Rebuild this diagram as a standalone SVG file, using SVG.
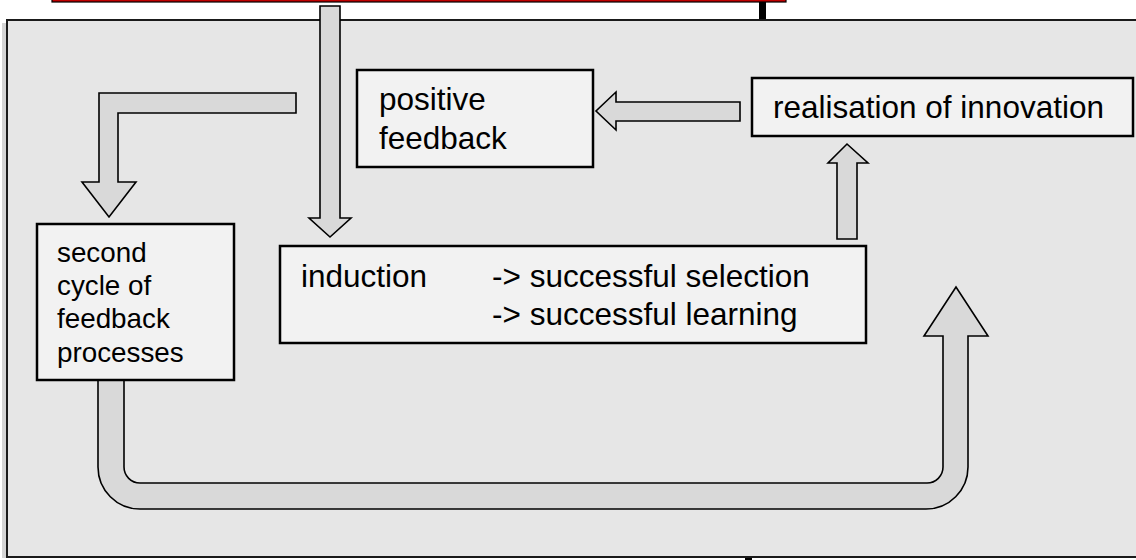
<svg xmlns="http://www.w3.org/2000/svg" width="1136" height="560" viewBox="0 0 1136 560">
<style>
.box{fill:#f2f2f2;stroke:#000;stroke-width:2.5}
.arr{fill:#d9d9d9;stroke:#000;stroke-width:1.6;stroke-linejoin:miter}
.t{font-family:"Liberation Sans",Arial,sans-serif;font-size:31.5px;fill:#000}
.ts{font-family:"Liberation Sans",Arial,sans-serif;font-size:27.8px;fill:#000}
</style>
<rect x="0" y="0" width="1136" height="560" fill="#fff"/>
<g id="top-bar">
<rect x="52" y="-30" width="734" height="32" fill="#c00000" stroke="#000" stroke-width="1.2"/>
<rect x="759" y="2" width="7" height="19" fill="#000"/>
<rect x="745" y="556" width="7" height="6" fill="#000"/>
</g>
<g id="frame">
<rect x="2" y="23" width="1140" height="535" fill="#d4d4d4"/>
<rect x="7" y="20" width="1135" height="537" fill="#e6e6e6" stroke="#1a1a1a" stroke-width="2"/>
</g>
<g id="connectors">
<path class="arr" d="M320,6 H340 V218 H351 L330,237 L309,218 H320 Z"/>
<path class="arr" d="M296,93 V113 H118 V182 H136 L109,217 L82,182 H99 V93 Z"/>
<path class="arr" d="M740,102 V121 H616 V130 L596,111 L616,92 V102 Z"/>
<path class="arr" d="M837,239 V163 H828 L847,144 L868,163 H857 V239 Z"/>
<path class="arr" d="M98,378 V467 A42,42 0 0 0 140,509 H926 A42,42 0 0 0 968,467 V336 H988 L956,287 L924,336 H943 V467 A16,16 0 0 1 927,483 H140 A16,16 0 0 1 124,467 V378 Z"/>
</g>
<g id="positive-feedback">
<rect class="box" x="357" y="70" width="236" height="97"/>
<text class="t" x="379" y="110">positive</text>
<text class="t" x="379" y="149">feedback</text>
</g>
<g id="realisation">
<rect class="box" x="752" y="78" width="381" height="58"/>
<text class="t" x="773" y="118">realisation of innovation</text>
</g>
<g id="second-cycle">
<rect class="box" x="37" y="224" width="197" height="156"/>
<text class="ts" x="57" y="262">second</text>
<text class="ts" x="57" y="295">cycle of</text>
<text class="ts" x="57" y="328">feedback</text>
<text class="ts" x="57" y="362">processes</text>
</g>
<g id="induction">
<rect class="box" x="280" y="246" width="586" height="97"/>
<text class="t" x="301" y="287">induction</text>
<text class="t" x="492" y="287">-&gt; successful selection</text>
<text class="t" x="492" y="325">-&gt; successful learning</text>
</g>
</svg>
